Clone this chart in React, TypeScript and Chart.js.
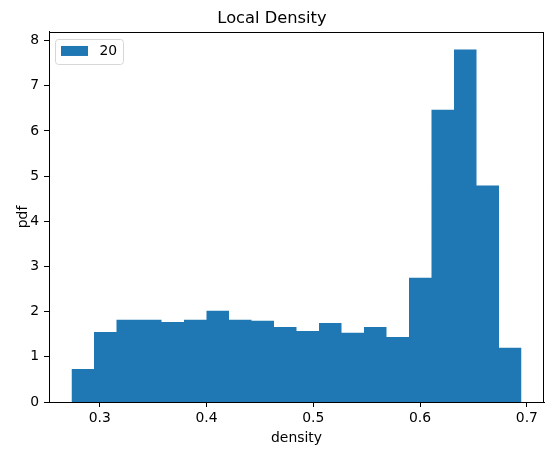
import React, { useEffect, useRef } from "react";
import { Chart, registerables } from "chart.js";

Chart.register(...registerables);

const binEdges = [
  0.2736, 0.29467, 0.31574, 0.33681, 0.35788, 0.37895, 0.40002, 0.42109,
  0.44216, 0.46323, 0.4843, 0.50537, 0.52644, 0.54751, 0.56858, 0.58965,
  0.61072, 0.63179, 0.65286, 0.67393, 0.695,
];
const pdfValues = [
  0.73, 1.55, 1.82, 1.82, 1.77, 1.82, 2.02, 1.82, 1.8, 1.66, 1.57, 1.75, 1.53,
  1.66, 1.44, 2.75, 6.47, 7.8, 4.79, 1.2,
];
const xTicks = [0.3, 0.4, 0.5, 0.6, 0.7];
const yTicks = [0, 1, 2, 3, 4, 5, 6, 7, 8];
const seriesLabel = "20";
const titleText = "Local Density";
const xLabel = "density";
const yLabel = "pdf";

const FONT = "'DejaVu Sans', sans-serif";
const BAR_COLOR = "#1f77b4";

const frameAndLegend = {
  id: "frameAndLegend",
  afterDraw(chart: any) {
    const ctx = chart.ctx;
    const a = chart.chartArea;
    ctx.save();
    ctx.strokeStyle = "#000";
    ctx.lineWidth = 1;
    ctx.strokeRect(Math.round(a.left) + 0.5, Math.round(a.top) + 0.5, Math.round(a.right - a.left) - 1, Math.round(a.bottom - a.top));
    // legend box
    const bx = a.left + 6.5;
    const by = a.top + 7.5;
    const bw = 68;
    const bh = 25;
    ctx.fillStyle = "rgba(255,255,255,0.8)";
    ctx.strokeStyle = "#d6d6d6";
    ctx.lineWidth = 1;
    ctx.beginPath();
    (ctx as any).roundRect(bx, by, bw, bh, 3);
    ctx.fill();
    ctx.stroke();
    ctx.fillStyle = BAR_COLOR;
    ctx.fillRect(a.left + 12, a.top + 14, 27, 10);
    ctx.fillStyle = "#000";
    ctx.font = `13.9px ${FONT}`;
    ctx.textBaseline = "middle";
    ctx.textAlign = "left";
    ctx.fillText(chart.data.datasets[0].label, a.left + 50.5, a.top + 19.5);
    ctx.restore();
  },
};

export default function App() {
  const ref = useRef<HTMLCanvasElement>(null);
  useEffect(() => {
    if (!ref.current) return;
    const lo = binEdges[0];
    const hi = binEdges[binEdges.length - 1];
    const span = hi - lo;
    const ymax = Math.max(...pdfValues) * 1.05;
    // histogram outline: each bin's value held from its left edge to its right edge
    const points = binEdges.map((e, i) => ({ x: e, y: pdfValues[Math.min(i, pdfValues.length - 1)] }));
    const chart = new Chart(ref.current, {
      type: "line",
      data: {
        datasets: [
          {
            label: seriesLabel,
            data: points as any,
            stepped: "before",
            fill: "origin",
            backgroundColor: BAR_COLOR,
            borderColor: "rgba(0,0,0,0)",
            borderWidth: 0,
            pointRadius: 0,
            pointHoverRadius: 0,
          },
        ],
      },
      options: {
        animation: false,
        responsive: false,
        devicePixelRatio: 1,
        layout: { padding: { left: 0, right: 10, top: 0, bottom: 0 } },
        plugins: {
          legend: { display: false },
          tooltip: { enabled: false },
          title: {
            display: true,
            text: titleText,
            color: "#000",
            font: { family: FONT, size: 16.3, weight: "normal" },
            padding: { top: 9.2, bottom: 3.2 },
          },
        },
        scales: {
          x: {
            type: "linear",
            offset: false,
            min: lo - 0.05 * span,
            max: hi + 0.05 * span,
            afterBuildTicks: (s: any) => {
              s.ticks = xTicks.map((v) => ({ value: v }));
            },
            afterFit: (s: any) => {
              s.height = 53;
            },
            grid: { offset: false, drawOnChartArea: false, drawTicks: true, tickLength: 5, color: "#000" },
            border: { display: true, color: "#000" },
            ticks: {
              color: "#000",
              font: { family: FONT, size: 13.9 },
              padding: 3,
              maxRotation: 0,
              callback: (v: any) => String(v),
            },
            title: {
              display: true,
              text: xLabel,
              color: "#000",
              font: { family: FONT, size: 13.9 },
              padding: { top: 0, bottom: 8.7 },
            },
          },
          y: {
            type: "linear",
            min: 0,
            max: ymax,
            afterBuildTicks: (s: any) => {
              s.ticks = yTicks.map((v) => ({ value: v }));
            },
            afterFit: (s: any) => {
              s.width = 49;
            },
            grid: { drawOnChartArea: false, drawTicks: true, tickLength: 5, color: "#000" },
            border: { display: true, color: "#000" },
            ticks: {
              color: "#000",
              font: { family: FONT, size: 13.9 },
              padding: 5,
              callback: (v: any) => String(v),
            },
            title: {
              display: true,
              text: yLabel,
              color: "#000",
              font: { family: FONT, size: 13.9 },
              padding: { top: 15.3, bottom: 0 },
            },
          },
        },
      },
      plugins: [frameAndLegend],
    });
    return () => chart.destroy();
  }, []);
  return (
    <div style={{ position: "absolute", left: 0, top: 0, width: 554, height: 455, background: "#fff" }}>
      <canvas ref={ref} width={554} height={455} style={{ display: "block", width: 554, height: 455 }} />
    </div>
  );
}
